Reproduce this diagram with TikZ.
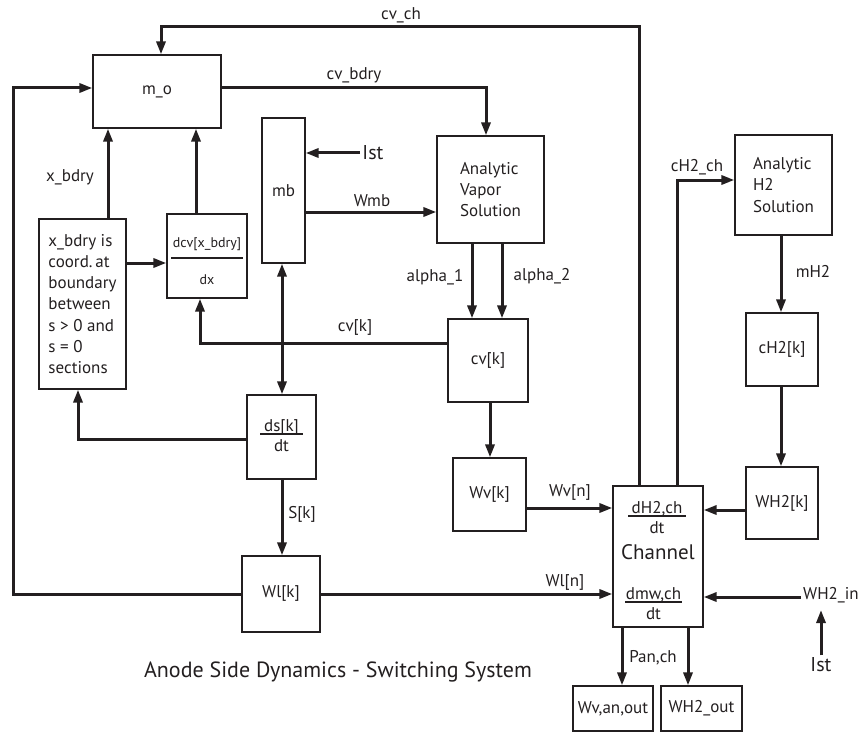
\documentclass[tikz,border=0pt]{standalone}
\usepackage{fontspec}
\setmainfont{PT Sans}
\usetikzlibrary{arrows.meta, positioning}
\definecolor{inkdark}{RGB}{35,31,32}
\tikzset{
  blk/.style={rectangle, draw=inkdark, line width=0.6pt, inner sep=0pt,
    font=\fontsize{8.5}{10}\selectfont, text=inkdark},
  txtblk/.style={blk, align=left},
  lbl/.style={inner sep=1pt, font=\fontsize{8.5}{10}\selectfont, text=inkdark},
  biglbl/.style={lbl, font=\fontsize{10}{12}\selectfont},
  arr/.style={-{Triangle[length=6.5pt,width=4.5pt]}, line width=1.5pt, color=inkdark},
  dblarr/.style={{Triangle[length=6.5pt,width=4.5pt]}-{Triangle[length=6.5pt,width=4.5pt]},
    line width=1.5pt, color=inkdark}
}
\newcommand{\ratio}[3]{\begin{tabular}{@{}c@{}}#1\\[-8pt]\rule{#3}{1pt}\\[-2pt]#2\end{tabular}}

\begin{document}
\begin{tikzpicture}[x=0.5pt, y=-0.5pt]
  \useasboundingbox (0,0) rectangle (862,733);

  % Blocks
  \node[blk, minimum width=64pt, minimum height=36.5pt] (mo) at (157,91.5) {m\_o};
  \node[txtblk, minimum width=53.5pt, minimum height=53.5pt,
    font=\fontsize{8.5}{10.5}\selectfont] (av) at (490.5,189.5) {Analytic\\Vapor\\Solution};
  \node[blk, minimum width=21.5pt, minimum height=72.5pt] (mb) at (283.5,190.5) {mb};
  \node[txtblk, minimum width=43.5pt, minimum height=85pt,
    font=\fontsize{8.5}{10.65}\selectfont] (xb) at (82.5,304)
    {x\_bdry is\\coord.\,at\\boundary\\between\\s > 0 and\\s = 0\\sections};
  \node[blk, minimum width=40pt, minimum height=42pt] (dcv) at (207,256) {};
  \node[lbl, font=\fontsize{7}{9}\selectfont] (dcvtxt) at (207,262)
    {\begin{tabular}{@{}c@{}}dcv[x\_bdry]\\[-3pt]\rule{36pt}{1pt}\\[3.5pt]dx\end{tabular}};
  \node[blk, minimum width=34.5pt, minimum height=42pt] (ds) at (281.5,437) {\ratio{ds[k]}{dt}{21.5pt}};
  \node[blk, minimum width=39pt, minimum height=38pt] (wl) at (281,594) {Wl[k]};
  \node[blk, minimum width=40pt, minimum height=41.5pt] (cv) at (488,360.5) {cv[k]};
  \node[blk, minimum width=36.5pt, minimum height=36.5pt] (wv) at (489.5,494.5) {Wv[k]};
  \node[blk, minimum width=45pt, minimum height=70.5pt] (ch) at (658,556.5) {};
  \node[lbl, font=\fontsize{10.5}{12}\selectfont] (chname) at (658,552) {Channel};
  \node[lbl] (chH) at (657,519) {\ratio{dH2,ch}{dt}{29pt}};
  \node[lbl] (chW) at (653.5,605) {\ratio{dmw,ch}{dt}{28.5pt}};
  \node[txtblk, minimum width=48.5pt, minimum height=50pt,
    font=\fontsize{8.5}{10.6}\selectfont] (ah) at (783.5,185) {Analytic\\H2\\Solution};
  \node[blk, minimum width=36pt, minimum height=36.5pt] (ch2) at (782,349.5) {cH2[k]};
  \node[blk, minimum width=36pt, minimum height=36pt] (wh2) at (782,503) {WH2[k]};
  \node[blk, minimum width=40pt, minimum height=22.5pt] (wvo) at (613,708.5) {Wv,an,out};
  \node[blk, minimum width=40.5pt, minimum height=22.5pt] (who) at (701.5,708.5) {WH2\_out};

  % Outside inputs
  \node[biglbl] (ist1) at (373,153) {Ist};
  \node[biglbl] (ist2) at (821,665) {Ist};
  \node[lbl] (whin) at (831,595) {WH2\_in};

  % Connectors
  \draw[arr] (639,0 |- ch.north) |- (161,27) -- (161,0 |- mo.north);
  \draw[arr] (wl.west) -| (13,88) -- (mo.west |- 0,88);
  \draw[arr] (mo.east |- 0,88) -| (486,0 |- av.north);
  \draw[arr] (ist1.west) -- (ist1.west -| mb.east);
  \draw[arr] (mb.east |- 0,212) -- (av.west |- 0,212);
  \draw[arr] (108,0 |- xb.north) -- (108,0 |- mo.south);
  \draw[arr] (196,0 |- dcv.north) -- (196,0 |- mo.south);
  \draw[arr] (xb.east |- 0,263) -- (dcv.west |- 0,263);
  \draw[arr] (cv.west |- 0,343) -| (200,0 |- dcv.south);
  \draw[dblarr] (282,0 |- mb.south) -- (282,0 |- ds.north);
  \draw[arr] (ds.west |- 0,439) -| (78,0 |- xb.south);
  \draw[arr] (282,0 |- ds.south) -- (282,0 |- wl.north);
  \draw[arr] (wl.east) -- (wl.east -| ch.west);
  \foreach \xa in {472,502}
    \draw[arr] (\xa,0 |- av.south) -- (\xa,0 |- cv.north);
  \draw[arr] (490,0 |- cv.south) -- (490,0 |- wv.north);
  \draw[arr] (wv.east |- 0,508) -- (ch.west |- 0,508);
  \draw[arr] (677,0 |- ch.north) |- (ah.west |- 0,180);
  \draw[arr] (781,0 |- ah.south) -- (781,0 |- ch2.north);
  \draw[arr] (781,0 |- ch2.south) -- (781,0 |- wh2.north);
  \draw[arr] (wh2.west |- 0,510) -- (ch.east |- 0,510);
  \draw[arr] (whin.west |- 0,597) -- (ch.east |- 0,597);
  \draw[arr] (ist2.north) -- (ist2.north |- 0,610);
  \draw[arr] (622,0 |- ch.south) -- (622,0 |- wvo.north);
  \draw[arr] (688,0 |- ch.south) -- (688,0 |- who.north);

  % Labels
  \node[lbl] (lcvch) at (401,15) {cv\_ch};
  \node[lbl] (lcvbdry) at (354,75) {cv\_bdry};
  \node[lbl] (lxbdry) at (70,177) {x\_bdry};
  \node[lbl] (lwmb) at (372,201) {Wmb};
  \node[lbl] (lalpha1) at (435,277) {alpha\_1};
  \node[lbl] (lalpha2) at (542,276) {alpha\_2};
  \node[lbl] (lcvk) at (355,328) {cv[k]};
  \node[lbl] (lsk) at (302,514) {S[k]};
  \node[lbl] (lwvn) at (570,493) {Wv[n]};
  \node[lbl] (lwln) at (565,582) {Wl[n]};
  \node[lbl] (lch2ch) at (697,167) {cH2\_ch};
  \node[lbl] (lmh2) at (813,271) {mH2};
  \node[lbl] (lpan) at (653,658) {Pan,ch};
  \node[lbl, font=\fontsize{11}{13}\selectfont] (caption) at (338,672)
    {Anode Side Dynamics - Switching System};
\end{tikzpicture}
\end{document}
